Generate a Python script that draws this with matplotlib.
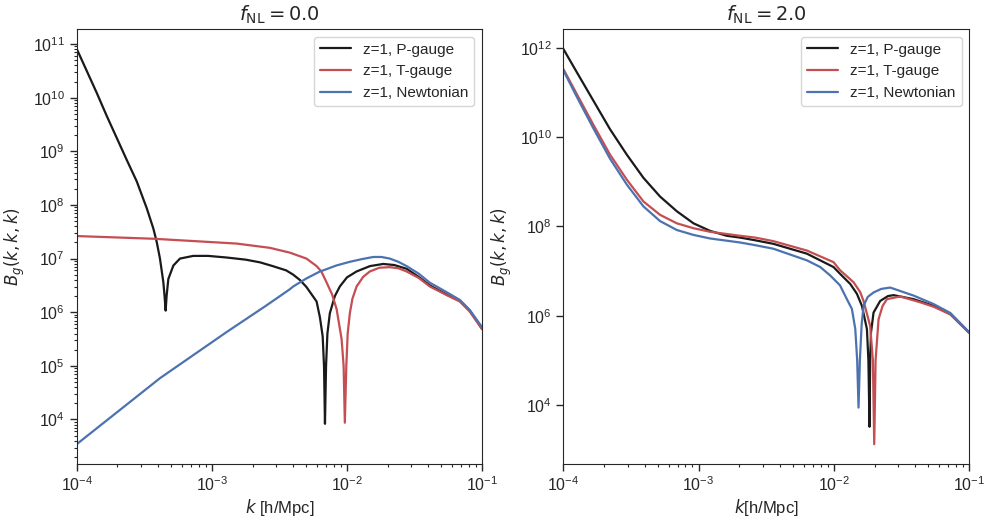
import numpy as np
import matplotlib
matplotlib.use("Agg")
import matplotlib.pyplot as plt
import matplotlib.ticker as mticker
import seaborn as sns

sns.set_style("ticks")
plt.rcParams["font.family"] = ["Liberation Sans", "DejaVu Sans"]

# --- data (log10 k, log10 B) ---
# f_NL = 0.0
logk_p0 = [-4.000, -3.926, -3.852, -3.778, -3.704, -3.630, -3.556, -3.482, -3.433,
           -3.408, -3.384, -3.359, -3.350, -3.342, -3.335, -3.322, -3.285, -3.236,
           -3.138, -3.027, -2.891, -2.750, -2.644, -2.550, -2.450, -2.398, -2.348,
           -2.300, -2.250, -2.225, -2.200, -2.180, -2.170, -2.163, -2.155, -2.145,
           -2.127, -2.090, -2.053, -2.000, -1.929, -1.830, -1.732, -1.650, -1.559,
           -1.470, -1.387, -1.263, -1.165, -1.091, -1.000]
logb_p0 = [10.91, 10.50, 10.09, 9.66, 9.25, 8.84, 8.44, 7.94, 7.56,
           7.31, 7.00, 6.56, 6.30, 6.03, 6.30, 6.62, 6.87, 7.00,
           7.05, 7.05, 7.02, 6.98, 6.93, 6.86, 6.78, 6.70, 6.60,
           6.47, 6.29, 6.20, 5.90, 5.55, 5.00, 3.92, 5.00, 5.60,
           5.98, 6.30, 6.48, 6.65, 6.76, 6.86, 6.90, 6.88, 6.81,
           6.66, 6.50, 6.33, 6.21, 6.03, 5.69]

logk_t0 = [-4.000, -3.433, -2.817, -2.570, -2.422, -2.300, -2.225, -2.190, -2.150,
           -2.110, -2.077, -2.040, -2.025, -2.016, -2.005, -1.995, -1.979, -1.960,
           -1.929, -1.880, -1.831, -1.760, -1.683, -1.620, -1.559, -1.470, -1.387,
           -1.263, -1.165, -1.091, -1.000]
logb_t0 = [7.42, 7.37, 7.28, 7.20, 7.11, 7.00, 6.86, 6.76, 6.55,
           6.33, 6.06, 5.50, 5.00, 3.94, 5.00, 5.60, 5.98, 6.25,
           6.48, 6.66, 6.76, 6.83, 6.84, 6.82, 6.76, 6.64, 6.48,
           6.32, 6.20, 6.01, 5.68]

logk_n0 = [-4.000, -3.384, -2.891, -2.600, -2.422, -2.398, -2.300, -2.200, -2.176,
           -2.080, -1.979, -1.890, -1.806, -1.745, -1.683, -1.620, -1.559, -1.470,
           -1.387, -1.288, -1.165, -1.091, -1.000]
logb_n0 = [3.54, 4.77, 5.63, 6.12, 6.43, 6.48, 6.63, 6.76, 6.78,
           6.87, 6.94, 6.99, 7.03, 7.03, 7.00, 6.94, 6.86, 6.72,
           6.55, 6.41, 6.23, 6.04, 5.72]

# f_NL = 2.0
logk_p2 = [-4.000, -3.901, -3.778, -3.655, -3.531, -3.408, -3.285, -3.161, -3.038,
           -2.915, -2.791, -2.693, -2.582, -2.447, -2.200, -2.003, -1.955, -1.879,
           -1.830, -1.793, -1.756, -1.745, -1.737, -1.732, -1.726, -1.707, -1.658,
           -1.600, -1.559, -1.411, -1.263, -1.139, -1.000]
logb_p2 = [11.98, 11.46, 10.82, 10.18, 9.61, 9.09, 8.67, 8.34, 8.07,
           7.90, 7.79, 7.75, 7.69, 7.61, 7.39, 7.09, 6.94, 6.71,
           6.49, 6.22, 5.70, 5.00, 3.51, 5.00, 5.62, 6.07, 6.33,
           6.44, 6.46, 6.37, 6.22, 6.03, 5.62]

logk_t2 = [-4.000, -3.901, -3.778, -3.655, -3.531, -3.408, -3.285, -3.161, -3.038,
           -2.915, -2.791, -2.693, -2.582, -2.447, -2.200, -2.003, -1.955, -1.855,
           -1.806, -1.781, -1.732, -1.712, -1.702, -1.692, -1.670, -1.640, -1.608,
           -1.510, -1.362, -1.263, -1.139, -1.000]
logb_t2 = [11.53, 10.97, 10.28, 9.61, 9.05, 8.56, 8.26, 8.07, 7.96,
           7.88, 7.83, 7.79, 7.75, 7.67, 7.46, 7.20, 7.02, 6.75,
           6.53, 6.33, 5.77, 5.00, 3.12, 5.00, 5.92, 6.22, 6.37,
           6.43, 6.30, 6.20, 6.03, 5.61]

logk_n2 = [-4.000, -3.901, -3.778, -3.655, -3.531, -3.408, -3.285, -3.161, -3.038,
           -2.915, -2.791, -2.693, -2.582, -2.447, -2.200, -2.101, -2.027, -1.955,
           -1.904, -1.867, -1.842, -1.828, -1.818, -1.808, -1.795, -1.781, -1.750,
           -1.707, -1.650, -1.584, -1.411, -1.263, -1.139, -1.000]
logb_n2 = [11.50, 10.91, 10.20, 9.52, 8.94, 8.45, 8.12, 7.92, 7.81,
           7.73, 7.68, 7.64, 7.58, 7.50, 7.24, 7.09, 6.90, 6.68,
           6.37, 6.15, 5.70, 5.00, 3.94, 5.00, 5.80, 6.22, 6.42,
           6.52, 6.60, 6.63, 6.45, 6.26, 6.06, 5.63]

labels = ["z=1, P-gauge", "z=1, T-gauge", "z=1, Newtonian"]
colors = ["#1a1a1a", "#c44e52", "#4c72b0"]
titles = [r"$f_{\rm NL} = 0.0$", r"$f_{\rm NL} = 2.0$"]
xlabels = [r"$k$ [h/Mpc]", r"$k$[h/Mpc]"]

panels = [
    [(logk_p0, logb_p0), (logk_t0, logb_t0), (logk_n0, logb_n0)],
    [(logk_p2, logb_p2), (logk_t2, logb_t2), (logk_n2, logb_n2)],
]

fig, axes = plt.subplots(1, 2, figsize=(9.9, 5.29), dpi=100)
axes[0].set_position([0.0775, 0.123, 0.4095, 0.822])
axes[1].set_position([0.569, 0.123, 0.41, 0.822])

for ax, series, title, xl in zip(axes, panels, titles, xlabels):
    for (lk, lb), lab, c in zip(series, labels, colors):
        ax.plot(10 ** np.array(lk), 10 ** np.array(lb), color=c, lw=1.6, label=lab)
    ax.set_xscale("log")
    ax.set_yscale("log")
    ax.set_xlim(1e-4, 1e-1)
    ax.set_title(title, fontsize=14)
    ax.set_xlabel(xl, fontsize=12, labelpad=2)
    ax.set_ylabel(r"$B_g(k,k,k)$", fontsize=12)
    ax.tick_params(labelsize=11.5, colors=".15")
    ax.tick_params(which="major", length=5, width=1)
    ax.tick_params(which="minor", length=2.5, width=0.8)
    ax.legend(loc="upper right", fontsize=11)

axes[1].yaxis.set_minor_locator(mticker.NullLocator())

fig.savefig("out.png", dpi=100)
